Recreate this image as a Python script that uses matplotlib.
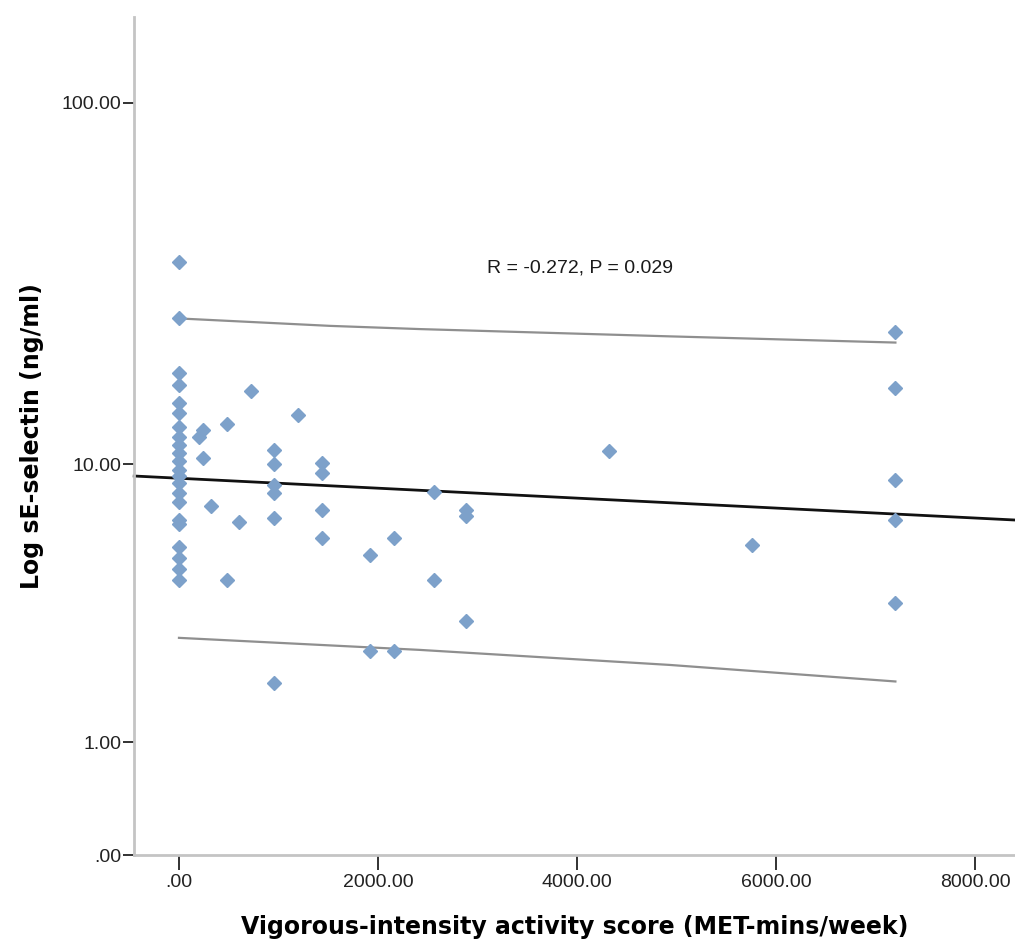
import numpy as np
import matplotlib
matplotlib.use('Agg')
import matplotlib.pyplot as plt

# --- Data: vigorous activity (MET-mins/week) vs sE-selectin (ng/ml) ---
vig_score = [0] * 22 + [
    200, 240, 240, 320, 480, 480, 600, 720,
    960, 960, 960, 960, 960, 960, 1200,
    1440, 1440, 1440, 1440, 1920, 1920, 2160, 2160,
    2560, 2560, 2880, 2880, 2880, 4320, 5760,
    7200, 7200, 7200, 7200, 7200,
]
selectin = [
    37.1, 26.0, 18.3, 16.9, 15.0, 14.1, 12.8, 12.0, 11.4, 10.8, 10.2,
    9.6, 9.2, 8.8, 8.2, 7.7, 6.8, 6.6, 5.6, 5.2, 4.8, 4.4,
    12.0, 12.6, 10.4, 7.5, 13.1, 4.4, 6.7, 16.2,
    11.0, 10.0, 8.7, 8.2, 6.9, 1.87, 13.9,
    10.1, 9.4, 7.3, 6.0, 5.3, 2.5, 6.0, 2.5,
    8.3, 4.4, 7.3, 7.0, 3.2, 10.9, 5.7,
    23.8, 16.6, 9.0, 6.8, 3.7,
]

# fitted line and individual prediction limits
fit_x = [-450, 8400]
fit_y = [9.23, 6.81]
band_x = [0, 1520, 2420, 4930, 7200]
upper_y = [25.9, 24.7, 24.2, 23.1, 22.2]
lower_x = [0, 2420, 4930, 7200]
lower_y = [2.79, 2.52, 2.21, 1.90]

y_ticks = [0, 1, 10, 100]
y_tick_labels = ['.00', '1.00', '10.00', '100.00']
x_ticks = [0, 2000, 4000, 6000, 8000]
x_tick_labels = ['.00', '2000.00', '4000.00', '6000.00', '8000.00']

stat_text = 'R = -0.272, P = 0.029'

MARKER_COLOR = '#7da1ca'
SPINE_COLOR = '#c4c4c4'

fig = plt.figure(figsize=(10.15, 9.43), dpi=100)
ax = fig.add_axes([134 / 1015, 88 / 943, 881 / 1015, 838 / 943])

# safe log scale: log10(y + 1)
ax.set_yscale('function', functions=(lambda y: np.log10(np.maximum(y, -0.999) + 1),
                                     lambda t: 10 ** t - 1))
ax.set_xlim(-452, 8402)
ax.set_ylim(0, 170)

ax.plot(band_x, upper_y, color='#8f8f8f', lw=1.6, zorder=2)
ax.plot(lower_x, lower_y, color='#8f8f8f', lw=1.6, zorder=2)
ax.plot(fit_x, fit_y, color='#111111', lw=2.0, zorder=2, clip_on=False)

ax.plot(vig_score, selectin, linestyle='none', marker='D', markersize=7.2,
        markerfacecolor=MARKER_COLOR, markeredgecolor=MARKER_COLOR, zorder=3)

ax.text(4030, 35.7, stat_text, ha='center', va='center', fontsize=14,
        family='Liberation Sans', color='#1a1a1a')

# axes styling
for side in ['top', 'right']:
    ax.spines[side].set_visible(False)
for side in ['left', 'bottom']:
    ax.spines[side].set_color(SPINE_COLOR)
    ax.spines[side].set_linewidth(2.0)

ax.set_yticks(y_ticks)
ax.set_yticklabels(y_tick_labels)
ax.set_xticks(x_ticks)
ax.set_xticklabels(x_tick_labels)
ax.yaxis.set_minor_locator(matplotlib.ticker.NullLocator())
ax.tick_params(axis='y', direction='out', length=8, width=1.3, color='#222222', pad=1)
ax.tick_params(axis='x', direction='out', length=11, width=1.3, color='#222222', pad=3)
for lbl in ax.get_xticklabels() + ax.get_yticklabels():
    lbl.set_family('Liberation Sans')
    lbl.set_fontsize(14)
    lbl.set_color('#222222')

ax.set_xlabel('Vigorous-intensity activity score (MET-mins/week)', fontsize=17,
              fontweight='bold', family='DejaVu Sans', labelpad=17)
ax.set_ylabel('Log sE-selectin (ng/ml)', fontsize=17, fontweight='bold',
              family='DejaVu Sans', labelpad=13)

plt.savefig('out.png', dpi=100, facecolor='white')
plt.close()
